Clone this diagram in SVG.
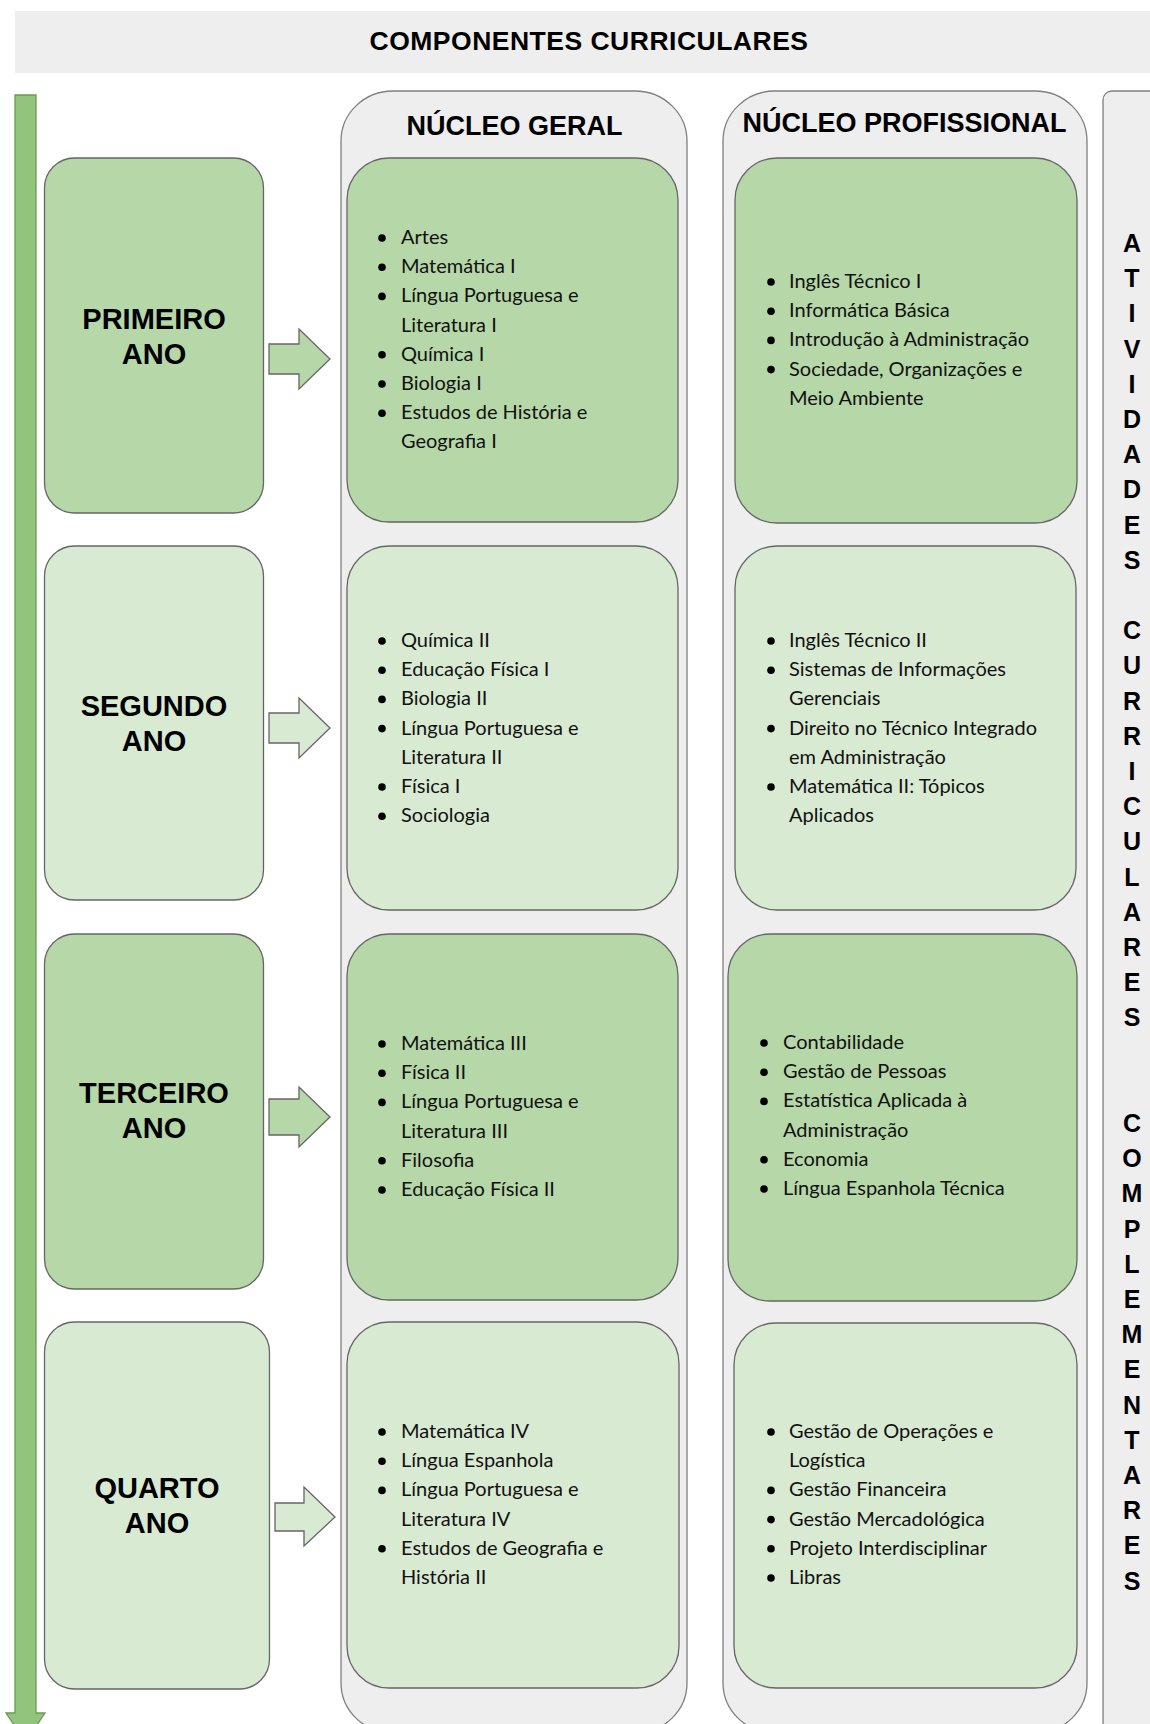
<svg xmlns="http://www.w3.org/2000/svg" width="1150" height="1724" viewBox="0 0 1150 1724">
<style>
.band{fill:#eeeeee}
.cont{fill:#eeeeee;stroke:#7f7f7f;stroke-width:1.3}
.dark{fill:#b6d7a8;stroke:#666666;stroke-width:1.3}
.light{fill:#d9ead3;stroke:#666666;stroke-width:1.3}
.h{font-family:"Liberation Sans",Arial,sans-serif;font-weight:bold;fill:#000}
.yr{font-family:"Liberation Sans",Arial,sans-serif;font-weight:bold;font-size:29px;text-anchor:middle;fill:#000}
.li{font-family:Lato,"Liberation Sans",sans-serif;font-size:20px;fill:#111}
.b{fill:#000}
.vt{font-family:"Liberation Sans",Arial,sans-serif;font-weight:bold;font-size:25px;text-anchor:middle;fill:#000}
.tl{fill:#93c47d;stroke:#6a9a55;stroke-width:1.3}
</style>

<g id="header">
<rect class="band" x="15" y="11" width="1135" height="62"/>
<text class="h" x="589" y="50" font-size="26.5" text-anchor="middle" letter-spacing="0.5">COMPONENTES CURRICULARES</text>
</g>

<g id="timeline">
<path class="tl" d="M15,95 H36 V1713 H45 L25.5,1742 L6,1713 H15 Z"/>
</g>

<g id="container-geral">
<rect class="cont" x="341" y="91" width="346" height="1642" rx="52" ry="50"/>
<text class="h" x="514.5" y="135" font-size="27" text-anchor="middle">NÚCLEO GERAL</text>
</g>

<g id="container-profissional">
<rect class="cont" x="723" y="91" width="364" height="1642" rx="52" ry="50"/>
<text class="h" x="904.5" y="132" font-size="27" text-anchor="middle">NÚCLEO PROFISSIONAL</text>
</g>

<g id="container-atividades">
<rect class="cont" x="1103" y="91" width="60" height="1660" rx="9"/>
<text class="vt" y="252"><tspan x="1132">A</tspan><tspan x="1132" dy="35.2">T</tspan><tspan x="1132" dy="35.2">I</tspan><tspan x="1132" dy="35.2">V</tspan><tspan x="1132" dy="35.2">I</tspan><tspan x="1132" dy="35.2">D</tspan><tspan x="1132" dy="35.2">A</tspan><tspan x="1132" dy="35.2">D</tspan><tspan x="1132" dy="35.2">E</tspan><tspan x="1132" dy="35.2">S</tspan><tspan x="1132" dy="70.4">C</tspan><tspan x="1132" dy="35.2">U</tspan><tspan x="1132" dy="35.2">R</tspan><tspan x="1132" dy="35.2">R</tspan><tspan x="1132" dy="35.2">I</tspan><tspan x="1132" dy="35.2">C</tspan><tspan x="1132" dy="35.2">U</tspan><tspan x="1132" dy="35.2">L</tspan><tspan x="1132" dy="35.2">A</tspan><tspan x="1132" dy="35.2">R</tspan><tspan x="1132" dy="35.2">E</tspan><tspan x="1132" dy="35.2">S</tspan><tspan x="1132" dy="105.6">C</tspan><tspan x="1132" dy="35.2">O</tspan><tspan x="1132" dy="35.2">M</tspan><tspan x="1132" dy="35.2">P</tspan><tspan x="1132" dy="35.2">L</tspan><tspan x="1132" dy="35.2">E</tspan><tspan x="1132" dy="35.2">M</tspan><tspan x="1132" dy="35.2">E</tspan><tspan x="1132" dy="35.2">N</tspan><tspan x="1132" dy="35.2">T</tspan><tspan x="1132" dy="35.2">A</tspan><tspan x="1132" dy="35.2">R</tspan><tspan x="1132" dy="35.2">E</tspan><tspan x="1132" dy="35.2">S</tspan></text>
</g>

<g id="ano1">
<rect class="dark" x="44.5" y="158" width="219" height="355" rx="30"/>
<text class="yr"><tspan x="154" y="329">PRIMEIRO</tspan><tspan x="154" y="364">ANO</tspan></text>
</g>
<g id="ano2">
<rect class="light" x="44.5" y="546" width="219" height="354" rx="30"/>
<text class="yr"><tspan x="154" y="716">SEGUNDO</tspan><tspan x="154" y="751">ANO</tspan></text>
</g>
<g id="ano3">
<rect class="dark" x="44.5" y="934" width="219" height="355" rx="30"/>
<text class="yr"><tspan x="154" y="1103">TERCEIRO</tspan><tspan x="154" y="1138">ANO</tspan></text>
</g>
<g id="ano4">
<rect class="light" x="44.5" y="1322" width="225" height="367" rx="30"/>
<text class="yr"><tspan x="157" y="1498">QUARTO</tspan><tspan x="157" y="1533">ANO</tspan></text>
</g>

<g id="connectors">
<path class="dark" d="M269,344 H299 V329 L330,359 L299,389 V374 H269 Z"/>
<path class="light" d="M269,713 H299 V698 L330,728 L299,758 V743 H269 Z"/>
<path class="dark" d="M269,1099 H299 V1087 L330,1117 L299,1147 V1135 H269 Z"/>
<path class="light" d="M275,1503 H304 V1487 L335,1517 L304,1546 V1531 H275 Z"/>
</g>

<g id="geral1">
<rect class="dark" x="347" y="158" width="331" height="364" rx="42"/>
<g class="b"><circle cx="382" cy="238" r="3.8"/><circle cx="382" cy="267.2" r="3.8"/><circle cx="382" cy="296.4" r="3.8"/><circle cx="382" cy="354.8" r="3.8"/><circle cx="382" cy="384" r="3.8"/><circle cx="382" cy="413.2" r="3.8"/></g>
<text class="li" y="244"><tspan x="401">Artes</tspan><tspan x="401" dy="29.2">Matemática I</tspan><tspan x="401" dy="29.2">Língua Portuguesa e</tspan><tspan x="401" dy="29.2">Literatura I</tspan><tspan x="401" dy="29.2">Química I</tspan><tspan x="401" dy="29.2">Biologia I</tspan><tspan x="401" dy="29.2">Estudos de História e</tspan><tspan x="401" dy="29.2">Geografia I</tspan></text>
</g>

<g id="prof1">
<rect class="dark" x="735" y="158" width="342" height="365" rx="42"/>
<g class="b"><circle cx="771" cy="282" r="3.8"/><circle cx="771" cy="311.2" r="3.8"/><circle cx="771" cy="340.4" r="3.8"/><circle cx="771" cy="369.6" r="3.8"/></g>
<text class="li" y="288"><tspan x="789">Inglês Técnico I</tspan><tspan x="789" dy="29.2">Informática Básica</tspan><tspan x="789" dy="29.2">Introdução à Administração</tspan><tspan x="789" dy="29.2">Sociedade, Organizações e</tspan><tspan x="789" dy="29.2">Meio Ambiente</tspan></text>
</g>

<g id="geral2">
<rect class="light" x="347" y="546" width="331" height="364" rx="42"/>
<g class="b"><circle cx="382" cy="641" r="3.8"/><circle cx="382" cy="670.2" r="3.8"/><circle cx="382" cy="699.4" r="3.8"/><circle cx="382" cy="728.6" r="3.8"/><circle cx="382" cy="787" r="3.8"/><circle cx="382" cy="816.2" r="3.8"/></g>
<text class="li" y="647"><tspan x="401">Química II</tspan><tspan x="401" dy="29.2">Educação Física I</tspan><tspan x="401" dy="29.2">Biologia II</tspan><tspan x="401" dy="29.2">Língua Portuguesa e</tspan><tspan x="401" dy="29.2">Literatura II</tspan><tspan x="401" dy="29.2">Física I</tspan><tspan x="401" dy="29.2">Sociologia</tspan></text>
</g>

<g id="prof2">
<rect class="light" x="735" y="546" width="341" height="364" rx="42"/>
<g class="b"><circle cx="771" cy="641" r="3.8"/><circle cx="771" cy="670.2" r="3.8"/><circle cx="771" cy="728.6" r="3.8"/><circle cx="771" cy="787" r="3.8"/></g>
<text class="li" y="647"><tspan x="789">Inglês Técnico II</tspan><tspan x="789" dy="29.2">Sistemas de Informações</tspan><tspan x="789" dy="29.2">Gerenciais</tspan><tspan x="789" dy="29.2">Direito no Técnico Integrado</tspan><tspan x="789" dy="29.2">em Administração</tspan><tspan x="789" dy="29.2">Matemática II: Tópicos</tspan><tspan x="789" dy="29.2">Aplicados</tspan></text>
</g>

<g id="geral3">
<rect class="dark" x="347" y="934" width="331" height="366" rx="42"/>
<g class="b"><circle cx="382" cy="1044" r="3.8"/><circle cx="382" cy="1073.2" r="3.8"/><circle cx="382" cy="1102.4" r="3.8"/><circle cx="382" cy="1160.8" r="3.8"/><circle cx="382" cy="1190" r="3.8"/></g>
<text class="li" y="1050"><tspan x="401">Matemática III</tspan><tspan x="401" dy="29.2">Física II</tspan><tspan x="401" dy="29.2">Língua Portuguesa e</tspan><tspan x="401" dy="29.2">Literatura III</tspan><tspan x="401" dy="29.2">Filosofia</tspan><tspan x="401" dy="29.2">Educação Física II</tspan></text>
</g>

<g id="prof3">
<rect class="dark" x="728" y="934" width="349" height="367" rx="42"/>
<g class="b"><circle cx="764" cy="1043" r="3.8"/><circle cx="764" cy="1072.2" r="3.8"/><circle cx="764" cy="1101.4" r="3.8"/><circle cx="764" cy="1159.8" r="3.8"/><circle cx="764" cy="1189" r="3.8"/></g>
<text class="li" y="1049"><tspan x="783">Contabilidade</tspan><tspan x="783" dy="29.2">Gestão de Pessoas</tspan><tspan x="783" dy="29.2">Estatística Aplicada à</tspan><tspan x="783" dy="29.2">Administração</tspan><tspan x="783" dy="29.2">Economia</tspan><tspan x="783" dy="29.2">Língua Espanhola Técnica</tspan></text>
</g>

<g id="geral4">
<rect class="light" x="347" y="1322" width="332" height="366" rx="42"/>
<g class="b"><circle cx="382" cy="1432" r="3.8"/><circle cx="382" cy="1461.2" r="3.8"/><circle cx="382" cy="1490.4" r="3.8"/><circle cx="382" cy="1548.8" r="3.8"/></g>
<text class="li" y="1438"><tspan x="401">Matemática IV</tspan><tspan x="401" dy="29.2">Língua Espanhola</tspan><tspan x="401" dy="29.2">Língua Portuguesa e</tspan><tspan x="401" dy="29.2">Literatura IV</tspan><tspan x="401" dy="29.2">Estudos de Geografia e</tspan><tspan x="401" dy="29.2">História II</tspan></text>
</g>

<g id="prof4">
<rect class="light" x="734" y="1323" width="343" height="365" rx="42"/>
<g class="b"><circle cx="771" cy="1432" r="3.8"/><circle cx="771" cy="1490.4" r="3.8"/><circle cx="771" cy="1519.6" r="3.8"/><circle cx="771" cy="1548.8" r="3.8"/><circle cx="771" cy="1578" r="3.8"/></g>
<text class="li" y="1438"><tspan x="789">Gestão de Operações e</tspan><tspan x="789" dy="29.2">Logística</tspan><tspan x="789" dy="29.2">Gestão Financeira</tspan><tspan x="789" dy="29.2">Gestão Mercadológica</tspan><tspan x="789" dy="29.2">Projeto Interdisciplinar</tspan><tspan x="789" dy="29.2">Libras</tspan></text>
</g>
</svg>
